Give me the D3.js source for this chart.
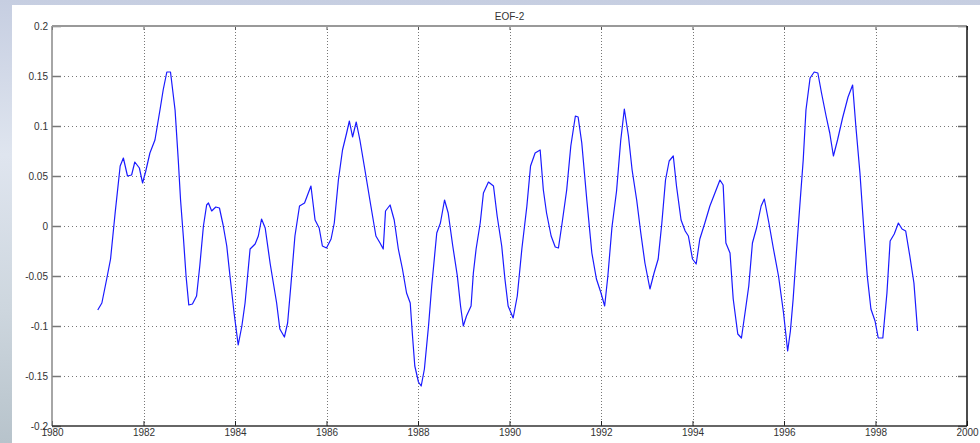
<!DOCTYPE html>
<html>
<head>
<meta charset="utf-8">
<script src="https://cdn.jsdelivr.net/npm/d3@7"></script>
<style>
  body { margin: 0; overflow: hidden; }
  svg { display: block; }
  .tick text { font-family: "Liberation Sans", Arial, sans-serif; font-size: 10px; fill: #333; }
</style>
</head>
<body>
<div id="chart"></div>
<script>
// EOF-2 time series (decimal year, amplitude)
const years = [
  1981.00, 1981.09, 1981.20, 1981.28, 1981.38, 1981.49, 1981.56, 1981.65, 1981.74, 1981.81,
  1981.91, 1981.98, 1982.05, 1982.14, 1982.25, 1982.36, 1982.43, 1982.51, 1982.59, 1982.69,
  1982.76, 1982.81, 1982.87, 1982.93, 1982.99, 1983.07, 1983.16, 1983.23, 1983.31, 1983.38,
  1983.42, 1983.49, 1983.58, 1983.66, 1983.74, 1983.82, 1983.89, 1983.98, 1984.07, 1984.15,
  1984.22, 1984.33, 1984.44, 1984.51, 1984.58, 1984.66, 1984.77, 1984.91, 1984.98, 1985.08,
  1985.15, 1985.22, 1985.31, 1985.41, 1985.52, 1985.66, 1985.75, 1985.84, 1985.91, 1986.00,
  1986.10, 1986.17, 1986.26, 1986.35, 1986.44, 1986.50, 1986.57, 1986.65, 1986.73, 1986.84,
  1986.97, 1987.08, 1987.17, 1987.24, 1987.29, 1987.39, 1987.48, 1987.57, 1987.66, 1987.75,
  1987.83, 1987.88, 1987.93, 1988.01, 1988.07, 1988.14, 1988.23, 1988.30, 1988.41, 1988.49,
  1988.58, 1988.66, 1988.76, 1988.86, 1988.93, 1988.99, 1989.06, 1989.16, 1989.21, 1989.27,
  1989.36, 1989.43, 1989.54, 1989.65, 1989.73, 1989.83, 1989.90, 1989.97, 1990.08, 1990.17,
  1990.27, 1990.38, 1990.46, 1990.56, 1990.67, 1990.74, 1990.81, 1990.91, 1991.00, 1991.07,
  1991.15, 1991.25, 1991.34, 1991.44, 1991.50, 1991.58, 1991.69, 1991.80, 1991.90, 1992.00,
  1992.08, 1992.15, 1992.24, 1992.34, 1992.43, 1992.51, 1992.60, 1992.68, 1992.78, 1992.87,
  1992.96, 1993.07, 1993.16, 1993.25, 1993.33, 1993.41, 1993.49, 1993.58, 1993.65, 1993.75,
  1993.84, 1993.91, 1994.00, 1994.08, 1994.16, 1994.27, 1994.38, 1994.49, 1994.60, 1994.67,
  1994.73, 1994.82, 1994.89, 1994.99, 1995.07, 1995.16, 1995.23, 1995.31, 1995.40, 1995.50,
  1995.57, 1995.67, 1995.77, 1995.88, 1995.99, 1996.08, 1996.14, 1996.20, 1996.27, 1996.35,
  1996.42, 1996.48, 1996.57, 1996.66, 1996.74, 1996.82, 1996.92, 1997.00, 1997.08, 1997.17,
  1997.28, 1997.40, 1997.50, 1997.57, 1997.66, 1997.74, 1997.82, 1997.90, 1997.99, 1998.06,
  1998.16, 1998.25, 1998.32, 1998.41, 1998.50, 1998.58, 1998.66, 1998.75, 1998.84, 1998.92
];
const eof2 = [
  -0.084, -0.077, -0.052, -0.033, 0.013, 0.060, 0.068, 0.050, 0.051, 0.064,
  0.058, 0.043, 0.055, 0.073, 0.086, 0.116, 0.136, 0.154, 0.154, 0.116,
  0.066, 0.026, -0.010, -0.050, -0.079, -0.078, -0.070, -0.040, 0.000, 0.021,
  0.023, 0.015, 0.019, 0.018, 0.001, -0.020, -0.050, -0.087, -0.119, -0.100,
  -0.077, -0.023, -0.018, -0.010, 0.007, -0.002, -0.038, -0.077, -0.103, -0.111,
  -0.097, -0.060, -0.010, 0.020, 0.023, 0.040, 0.006, -0.002, -0.020, -0.022,
  -0.013, 0.003, 0.046, 0.076, 0.093, 0.105, 0.089, 0.104, 0.086, 0.056,
  0.020, -0.010, -0.017, -0.023, 0.015, 0.021, 0.006, -0.023, -0.043, -0.067,
  -0.077, -0.110, -0.140, -0.156, -0.160, -0.143, -0.100, -0.060, -0.007, 0.003,
  0.026, 0.013, -0.020, -0.050, -0.080, -0.100, -0.090, -0.080, -0.047, -0.023,
  0.003, 0.033, 0.044, 0.040, 0.010, -0.020, -0.053, -0.080, -0.092, -0.070,
  -0.023, 0.020, 0.060, 0.073, 0.076, 0.036, 0.013, -0.010, -0.021, -0.022,
  0.003, 0.036, 0.080, 0.110, 0.109, 0.083, 0.026, -0.027, -0.053, -0.067,
  -0.080, -0.050, -0.001, 0.035, 0.085, 0.117, 0.090, 0.056, 0.026, -0.007,
  -0.037, -0.063, -0.047, -0.033, 0.003, 0.046, 0.065, 0.070, 0.040, 0.006,
  -0.005, -0.010, -0.033, -0.038, -0.013, 0.003, 0.020, 0.033, 0.046, 0.041,
  -0.017, -0.027, -0.073, -0.108, -0.112, -0.083, -0.060, -0.017, -0.002, 0.020,
  0.027, 0.003, -0.023, -0.050, -0.087, -0.125, -0.105, -0.073, -0.027, 0.023,
  0.066, 0.116, 0.148, 0.154, 0.153, 0.133, 0.110, 0.093, 0.070, 0.086,
  0.108, 0.129, 0.141, 0.100, 0.053, 0.000, -0.050, -0.083, -0.095, -0.112,
  -0.112, -0.067, -0.015, -0.008, 0.003, -0.003, -0.005, -0.030, -0.057, -0.105
];
const xTicks = [1980, 1982, 1984, 1986, 1988, 1990, 1992, 1994, 1996, 1998, 2000];
const yTicks = [-0.2, -0.15, -0.1, -0.05, 0, 0.05, 0.1, 0.15, 0.2];
const yTickLabels = ["-0.2", "-0.15", "-0.1", "-0.05", "0", "0.05", "0.1", "0.15", "0.2"];
const title = "EOF-2";

const W = 980, H = 443;
const margin = { left: 52, right: 13, top: 26, bottom: 16 };
const width = W - margin.left - margin.right;
const height = H - margin.top - margin.bottom - 1;

const svg = d3.select("#chart").append("svg")
  .attr("width", W)
  .attr("height", H);

// slide-like background
const defs = svg.append("defs");
const grad = defs.append("linearGradient")
  .attr("id", "bg")
  .attr("x1", 0).attr("y1", 0).attr("x2", 0).attr("y2", 1);
grad.append("stop").attr("offset", "0%").attr("stop-color", "#c6cee1");
grad.append("stop").attr("offset", "35%").attr("stop-color", "#dfe5ef");
grad.append("stop").attr("offset", "70%").attr("stop-color", "#cdd6de");
grad.append("stop").attr("offset", "100%").attr("stop-color", "#b7c3cb");

svg.append("rect").attr("width", W).attr("height", H).attr("fill", "url(#bg)");
svg.append("rect")
  .attr("x", 12).attr("y", 5)
  .attr("width", W - 12).attr("height", H - 5)
  .attr("fill", "#fff");

const g = svg.append("g")
  .attr("transform", `translate(${margin.left},${margin.top})`);

const x = d3.scaleLinear().domain([1980, 2000]).range([0, width]);
const y = d3.scaleLinear().domain([-0.2, 0.2]).range([height, 0]);

// dotted grid
g.append("g")
  .selectAll("line")
  .data(xTicks.slice(1, -1))
  .join("line")
  .attr("x1", d => Math.round(x(d)) + 0.5)
  .attr("x2", d => Math.round(x(d)) + 0.5)
  .attr("y1", 0)
  .attr("y2", height)
  .attr("stroke", "#777")
  .attr("stroke-dasharray", "1,2");

g.append("g")
  .selectAll("line")
  .data(yTicks.slice(1, -1))
  .join("line")
  .attr("x1", 0)
  .attr("x2", width)
  .attr("y1", d => Math.round(y(d)) + 0.5)
  .attr("y2", d => Math.round(y(d)) + 0.5)
  .attr("stroke", "#777")
  .attr("stroke-dasharray", "1,3");

// axes
const axLeft = g.append("g")
  .call(d3.axisLeft(y).tickValues(yTicks).tickFormat((d, i) => yTickLabels[i])
    .tickSize(-9).tickPadding(4));
const axBottom = g.append("g")
  .attr("transform", `translate(0,${height})`)
  .call(d3.axisBottom(x).tickValues(xTicks).tickFormat(d3.format("d"))
    .tickSize(-5).tickPadding(3));
const axTop = g.append("g")
  .call(d3.axisTop(x).tickValues(xTicks).tickFormat("").tickSize(-4));
const axRight = g.append("g")
  .attr("transform", `translate(${width},0)`)
  .call(d3.axisRight(y).tickValues(yTicks).tickFormat("").tickSize(-9));

[axLeft, axBottom, axTop, axRight].forEach(a => a.select(".domain").remove());
axLeft.selectAll(".tick line").attr("stroke", "#777").attr("stroke-width", 1.5);
axTop.selectAll(".tick line").attr("stroke", "#555");
axBottom.selectAll(".tick line").attr("stroke", "#222");
axRight.selectAll(".tick line").attr("stroke", "#666").attr("stroke-width", 1.5);

// box edges
g.append("line").attr("x1", 0).attr("x2", 0).attr("y1", 0).attr("y2", height)
  .attr("stroke", "#888").attr("stroke-width", 1.5);
g.append("line").attr("x1", 0).attr("x2", width).attr("y1", 0).attr("y2", 0)
  .attr("stroke", "#999").attr("stroke-width", 2);
g.append("line").attr("x1", 0).attr("x2", width).attr("y1", height).attr("y2", height)
  .attr("stroke", "#333").attr("stroke-width", 1.5);
g.append("line").attr("x1", width).attr("x2", width).attr("y1", 0).attr("y2", height)
  .attr("stroke", "#111").attr("stroke-width", 1.5);

// series
const points = years.map((t, i) => ({ t: t, v: eof2[i] }));
g.append("path")
  .datum(points)
  .attr("fill", "none")
  .attr("stroke", "#1a1aff")
  .attr("stroke-width", 1.2)
  .attr("stroke-linejoin", "round")
  .attr("d", d3.line().x(d => x(d.t)).y(d => y(d.v)));

// title
svg.append("text")
  .attr("x", margin.left + width / 2)
  .attr("y", 19.5)
  .attr("text-anchor", "middle")
  .attr("font-family", "Liberation Sans, Arial, sans-serif")
  .attr("font-size", 10)
  .attr("fill", "#333")
  .text(title);
</script>
</body>
</html>
